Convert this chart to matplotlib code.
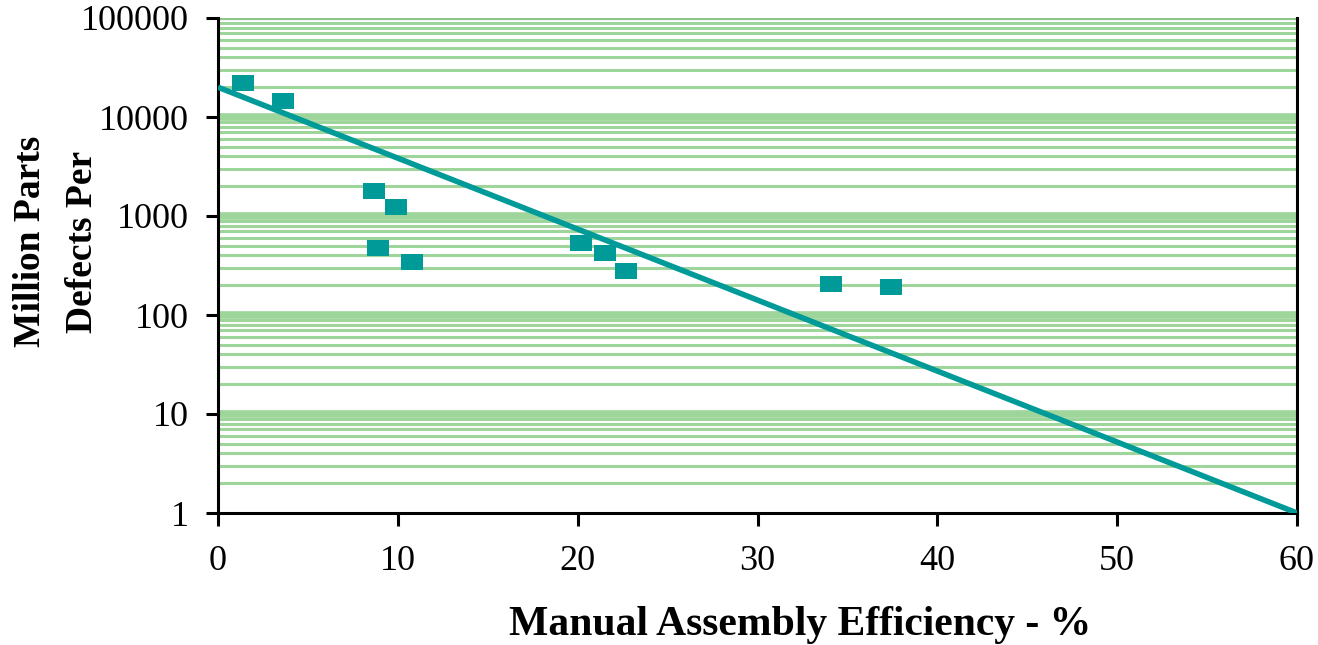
import matplotlib.pyplot as plt
from matplotlib.ticker import LogLocator, FixedLocator, NullFormatter

# measured points
efficiency = [1.4, 3.6, 8.7, 9.9, 8.9, 10.8, 20.2, 21.5, 22.7, 34.1, 37.4]
defects = [22000, 14500, 1790, 1230, 475, 343, 533, 423, 278, 206, 192]

# fitted trend line end points
trend_x = [0, 60]
trend_y = [20000, 1]

y_ticks = [1, 10, 100, 1000, 10000, 100000]
x_ticks = [0, 10, 20, 30, 40, 50, 60]

teal = '#009a98'
green = '#9dd59a'

plt.rcParams['font.family'] = ['Liberation Serif', 'DejaVu Serif']

W, H = 1318, 645
fig = plt.figure(figsize=(W / 100, H / 100), dpi=100)
ax = fig.add_axes([218 / W, 1 - 513 / H, (1297 - 218) / W, (513 - 18) / H])

ax.set_yscale('log')
ax.set_xlim(0, 60)
ax.set_ylim(1, 100000)

# grid lines
ax.yaxis.set_minor_locator(LogLocator(base=10, subs=range(2, 10)))
ax.yaxis.set_minor_formatter(NullFormatter())
ax.grid(True, which='minor', axis='y', color=green, linewidth=2.2, zorder=0)
for v in y_ticks[1:-1]:
    ax.axhline(v, color=green, linewidth=5.5, zorder=0)
ax.axhline(y_ticks[-1], color='#8cc48a', linewidth=3, zorder=0)
ax.set_axisbelow(True)

ax.plot(trend_x, trend_y, color=teal, linewidth=4, solid_capstyle='butt', zorder=3)
rect = [(-1, -0.72), (1, -0.72), (1, 0.72), (-1, 0.72)]
ax.scatter(efficiency, defects, marker=rect, s=260, color=teal, zorder=4, linewidths=0)

ax.yaxis.set_major_locator(FixedLocator(y_ticks))
ax.set_yticklabels([str(v) for v in y_ticks])
ax.set_xticks(x_ticks)
ax.tick_params(axis='both', which='major', direction='out', length=9, width=2.2,
               labelsize=26)
ax.tick_params(axis='y', which='major', pad=12)
ax.tick_params(axis='x', which='major', pad=14)
ax.tick_params(axis='y', which='minor', length=0)

for s in ['left', 'bottom', 'right']:
    ax.spines[s].set_linewidth(2.2)
    ax.spines[s].set_color('black')
ax.spines['top'].set_visible(False)

# axis titles placed like the original
fig.text(800 / W, 1 - 625 / H, 'Manual Assembly Efficiency - %', fontsize=30,
         fontweight='bold', ha='center', va='center')
fig.text(31 / W, 1 - 241 / H, 'Million Parts', fontsize=27, fontweight='bold',
         rotation=90, ha='center', va='center')
fig.text(82 / W, 1 - 242 / H, 'Defects Per', fontsize=27, fontweight='bold',
         rotation=90, ha='center', va='center')

fig.savefig('out.png', dpi=100)
